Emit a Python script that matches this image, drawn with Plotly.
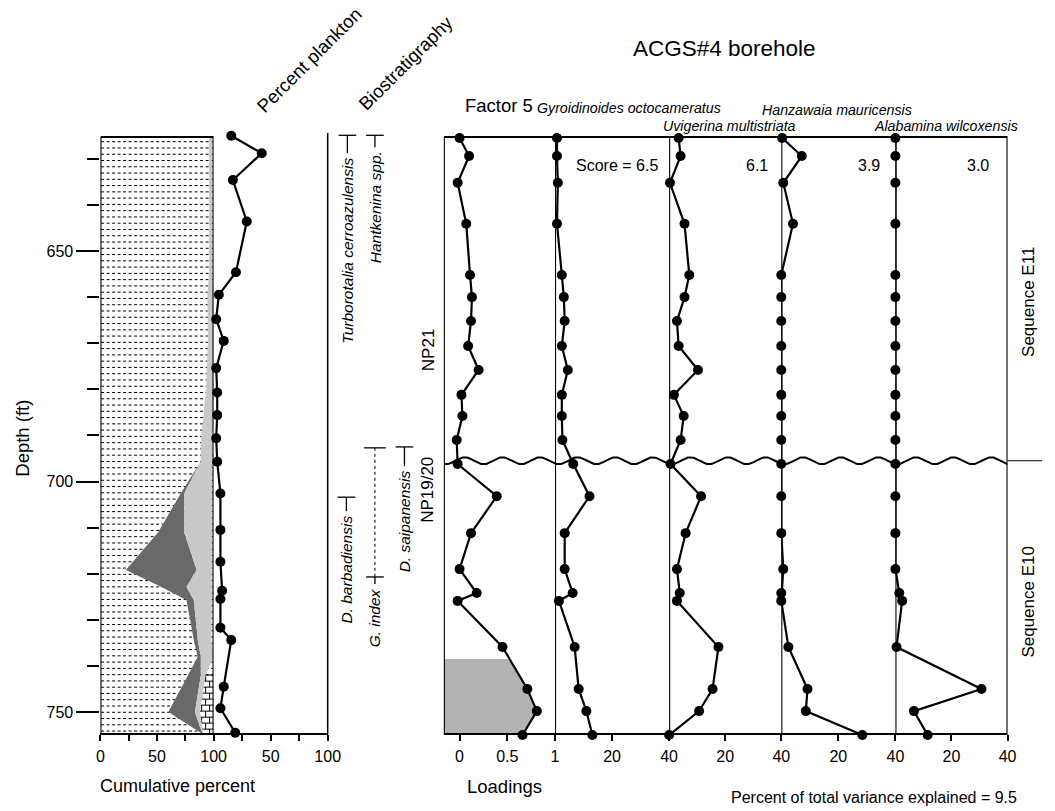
import numpy as np
import plotly.graph_objects as go

W, H = 1055, 811
FONT = "Liberation Sans, Arial, Helvetica, sans-serif"

# ---------------- data ----------------
# Percent plankton (depth in ft, percent)
plankton_depth = [625.0, 628.8, 634.6, 643.6, 654.6, 659.5, 664.8, 669.5, 675.4, 680.7, 685.6, 690.6,
                  695.7, 702.6, 710.5, 717.4, 723.7, 725.5, 731.7, 734.4, 744.5, 749.2, 754.5]
percent_plankton = [15.5, 42.2, 16.9, 29.1, 19.6, 4.6, 2.3, 8.9, 2.3, 3.2, 3.2, 2.3,
                    3.2, 6.0, 6.0, 6.0, 7.5, 6.0, 6.0, 15.5, 8.9, 6.0, 19.0]

# Cumulative percent: boundaries between components, left to right
cum_depth = [625.3, 654.6, 659.5, 669.5, 680.7, 690.6, 695.7, 702.6, 711.0, 719.2, 722.9, 725.7,
             734.4, 738.0, 742.0, 750.0, 754.7]
cum_bound_1 = [96.0, 96.0, 94.5, 95.0, 93.0, 89.0, 88.5, 71.0, 51.0, 22.5, 54.0, 76.0,
               82.5, 86.0, 77.4, 60.0, 90.0]
cum_bound_2 = [96.0, 96.0, 94.5, 95.0, 93.0, 89.0, 88.5, 74.0, 74.0, 85.0, 76.0, 82.5,
               86.0, 88.7, 88.7, 83.5, 90.0]
cum_bound_3 = [98.5, 98.5, 100.0, 100.0, 100.0, 99.0, 99.0, 98.5, 98.5, 98.5, 98.5, 98.5,
               98.0, 100.0, 93.0, 88.0, 91.0]

# Limestone interval at the base of the column
limestone_top, limestone_base, limestone_left = 742.0, 754.8, 86.0

# Factor 5 loadings and species percentages
sample_depth = [625.5, 629.4, 635.2, 644.1, 655.2, 660.0, 665.2, 670.6, 675.8, 681.2, 685.8, 691.0,
                696.2, 703.2, 711.2, 719.0, 724.2, 725.9, 735.9, 745.0, 749.8, 755.0]
loadings = [0.00, 0.10, -0.02, 0.07, 0.11, 0.13, 0.12, 0.09, 0.20, 0.02, 0.03, -0.03,
            -0.02, 0.39, 0.12, 0.00, 0.18, -0.02, 0.45, 0.71, 0.81, 0.66]
gyroidinoides = [0.7, 0.7, 1.0, 0.7, 2.4, 3.1, 3.4, 2.4, 4.5, 2.4, 2.4, 2.6,
                 6.4, 12.1, 3.4, 3.4, 6.2, 1.4, 6.9, 8.3, 11.0, 13.1]
uvigerina = [3.4, 4.1, 0.3, 5.5, 7.2, 5.5, 2.8, 3.4, 10.3, 1.7, 5.2, 4.1,
             0.5, 11.4, 5.9, 2.8, 3.8, 2.8, 17.6, 15.5, 10.7, 0.0]
hanzawaia = [0.3, 7.2, 0.7, 4.1, 0.0, 0.0, 0.0, 0.0, 0.0, 0.0, 0.0, 0.0,
             0.0, 0.0, 0.0, 0.7, 0.0, 0.0, 2.5, 9.2, 8.6, 28.4]
alabamina = [0.0, 0.0, 0.0, 0.0, 0.0, 0.0, 0.0, 0.0, 0.0, 0.0, 0.0, 0.0,
             0.0, 0.0, 0.0, 0.0, 1.4, 2.4, 0.4, 30.7, 6.6, 11.5]
species_names = ["Gyroidinoides octocameratus", "Uvigerina multistriata",
                 "Hanzawaia mauricensis", "Alabamina wilcoxensis"]
species_scores = [6.5, 6.1, 3.9, 3.0]
variance_explained = 9.5
loading_shade_top = 738.5
unconformity_depth = 695.5

# Biostratigraphic events
bio_names = ["Turborotalia cerroazulensis", "Hantkenina spp.", "D. barbadiensis", "G. index", "D. saipanensis"]
bio_event_depth = [624.9, 624.9, 703.4, 720.7, 692.5]
g_index_range = [692.7, 720.7]
nanno_zones = ["NP21", "NP19/20"]
nanno_label_depth = [671.5, 701.8]
sequences = ["Sequence E11", "Sequence E10"]
sequence_label_depth = [661.0, 726.0]

# ---------------- geometry ----------------
PLOT_TOP, PLOT_BOT = 137, 734
DEPTH_TOP, DEPTH_BOT = 625.27, 754.77
FT_PER_PX = (DEPTH_BOT - DEPTH_TOP) / (PLOT_BOT - PLOT_TOP)
# depth axis is padded so marks on the frame edges are not clipped
PAD_PX = 16
Y_RANGE = [DEPTH_BOT + PAD_PX * FT_PER_PX, DEPTH_TOP - PAD_PX * FT_PER_PX]


def fx(p):
    return p / W


def fy(p):
    return 1 - p / H


fig = go.Figure()

# ---- lithology: shale dashes ----
sx, sy = [], []
d = DEPTH_TOP + 4.7 * FT_PER_PX
while d < DEPTH_BOT - 0.4:
    sx += [0.6, 99.4, None]
    sy += [d, d, None]
    d += 6.27 * FT_PER_PX
fig.add_trace(go.Scatter(x=sx, y=sy, mode="lines", xaxis="x", yaxis="y",
                         line=dict(color="black", width=1, dash="3px,2.5px"),
                         hoverinfo="skip", showlegend=False))

# ---- lithology: limestone bricks ----
fig.add_trace(go.Scatter(x=[limestone_left, 100, 100, limestone_left, limestone_left],
                         y=[limestone_top, limestone_top, limestone_base, limestone_base, limestone_top],
                         fill="toself", fillcolor="white", mode="none", xaxis="x", yaxis="y",
                         hoverinfo="skip", showlegend=False))
bx, by = [], []
row_h = 6.0 * FT_PER_PX
rows = np.arange(limestone_top, limestone_base + 0.01, row_h)
for i, r in enumerate(rows):
    bx += [limestone_left, 100, None]
    by += [r, r, None]
    r2 = min(r + row_h, limestone_base)
    joints = [93.0] if i % 2 == 0 else [89.5, 96.5]
    for j in joints:
        bx += [j, j, None]
        by += [r, r2, None]
fig.add_trace(go.Scatter(x=bx, y=by, mode="lines", xaxis="x", yaxis="y",
                         line=dict(color="black", width=1), hoverinfo="skip", showlegend=False))

# ---- cumulative percent fills ----
fig.add_trace(go.Scatter(x=cum_bound_1 + cum_bound_2[::-1], y=cum_depth + cum_depth[::-1],
                         fill="toself", fillcolor="#696969", mode="none", xaxis="x", yaxis="y",
                         hoverinfo="skip", showlegend=False))
fig.add_trace(go.Scatter(x=cum_bound_2 + cum_bound_3[::-1], y=cum_depth + cum_depth[::-1],
                         fill="toself", fillcolor="#c9c9c9", mode="none", xaxis="x", yaxis="y",
                         hoverinfo="skip", showlegend=False))

# column frame
fig.add_trace(go.Scatter(x=[0, 100, 100, 0, 0], y=[DEPTH_TOP, DEPTH_TOP, DEPTH_BOT, DEPTH_BOT, DEPTH_TOP],
                         mode="lines", line=dict(color="black", width=2.2), xaxis="x", yaxis="y",
                         hoverinfo="skip", showlegend=False))

# ---- percent plankton ----
fig.add_trace(go.Scatter(x=percent_plankton, y=plankton_depth, mode="lines+markers",
                         xaxis="x2", yaxis="y", cliponaxis=False,
                         line=dict(color="black", width=2.2),
                         marker=dict(color="black", size=10), showlegend=False))

# ---- factor 5 panel ----
# shaded loadings at the base
shade_d = [loading_shade_top] + [dd for dd in sample_depth if dd > loading_shade_top]
shade_v = [float(np.interp(loading_shade_top, sample_depth, loadings))] + \
          [v for dd, v in zip(sample_depth, loadings) if dd > loading_shade_top]
x_min_load = -0.165
shade_d[-1] = min(shade_d[-1], DEPTH_BOT)
fig.add_trace(go.Scatter(x=[x_min_load] + shade_v + [x_min_load],
                         y=[loading_shade_top] + shade_d + [shade_d[-1]],
                         fill="toself", fillcolor="#b3b3b3", mode="none",
                         xaxis="x3", yaxis="y", hoverinfo="skip", showlegend=False))

# panel frame and column baselines
fig.add_trace(go.Scatter(x=[0, 1, 1, 0, 0], y=[DEPTH_TOP, DEPTH_TOP, DEPTH_BOT, DEPTH_BOT, DEPTH_TOP],
                         mode="lines", line=dict(color="black", width=2.2), xaxis="x8", yaxis="y",
                         hoverinfo="skip", showlegend=False))
for ax in ["x4", "x5", "x6", "x7"]:
    fig.add_trace(go.Scatter(x=[0, 0], y=[DEPTH_TOP, DEPTH_BOT], mode="lines",
                             line=dict(color="black", width=2.2), xaxis=ax, yaxis="y",
                             hoverinfo="skip", showlegend=False))

series = [(loadings, "x3"), (gyroidinoides, "x4"), (uvigerina, "x5"), (hanzawaia, "x6"), (alabamina, "x7")]
for vals, ax in series:
    fig.add_trace(go.Scatter(x=vals, y=sample_depth, mode="lines+markers", xaxis=ax, yaxis="y",
                             cliponaxis=False, line=dict(color="black", width=2.2),
                             marker=dict(color="black", size=10), showlegend=False))

# unconformity (wavy line)
wx = np.linspace(0, 1, 800)
wy = unconformity_depth + 0.75 * np.sin(2 * np.pi * 15 * wx + 1.2)
fig.add_trace(go.Scatter(x=wx, y=wy, mode="lines", xaxis="x8", yaxis="y",
                         line=dict(color="black", width=2), hoverinfo="skip", showlegend=False))

# ---------------- axes ----------------
tickfont = dict(family=FONT, size=16, color="black")
base_x = dict(showgrid=False, zeroline=False, ticks="outside", ticklen=6, tickwidth=1.5,
              tickcolor="black", tickfont=tickfont, anchor="free", position=fy(PLOT_BOT),
              fixedrange=True, ticklabelstandoff=2)

layout_axes = dict(
    xaxis=dict(base_x, domain=[fx(98), fx(213)], range=[0, 100], tickvals=[0, 25, 50, 75, 100],
               ticktext=["0", "", "50", "", "100"], showline=True, linecolor="black", linewidth=2.2),
    xaxis2=dict(base_x, domain=[fx(213), fx(329)], range=[0, 100], tickvals=[25, 50, 75, 100],
                ticktext=["", "50", "", "100"], showline=True, linecolor="black", linewidth=2.2),
    xaxis3=dict(base_x, domain=[fx(447), fx(560)], range=[x_min_load, 1.0], tickvals=[0, 0.5, 1],
                ticktext=["0", "0.5", "1"], showline=False),
    xaxis4=dict(base_x, domain=[fx(560), fx(676)], range=[0, 40], tickvals=[20, 40],
                ticktext=["20", "40"], showline=False),
    xaxis5=dict(base_x, domain=[fx(676), fx(790)], range=[0, 40], tickvals=[20, 40],
                ticktext=["20", "40"], showline=False),
    xaxis6=dict(base_x, domain=[fx(790), fx(906)], range=[0, 40], tickvals=[20, 40],
                ticktext=["20", "40"], showline=False),
    xaxis7=dict(base_x, domain=[fx(906), fx(1020)], range=[0, 40], tickvals=[20, 40],
                ticktext=["20", "40"], showline=False),
    xaxis8=dict(domain=[fx(447), fx(1020)], range=[0, 1], visible=False, anchor="free",
                position=fy(PLOT_BOT), fixedrange=True),
    yaxis=dict(domain=[fy(PLOT_BOT + PAD_PX), fy(PLOT_TOP - PAD_PX)], range=Y_RANGE, anchor="x",
               showgrid=False, zeroline=False, showline=False,
               tickvals=[650, 700, 750], ticks="outside", ticklen=23, tickwidth=2, tickcolor="black",
               tickfont=tickfont,
               minor=dict(tickvals=[630, 640, 660, 670, 680, 690, 710, 720, 730, 740],
                          ticks="outside", ticklen=12, tickwidth=1.5, tickcolor="black"),
               fixedrange=True),
)

# ---------------- shapes ----------------
shapes = []
# right edge of percent plankton panel
shapes.append(dict(type="line", xref="paper", yref="paper", x0=fx(329), x1=fx(329),
                   y0=fy(PLOT_BOT), y1=fy(133), line=dict(color="black", width=1.5)))
# sequence boundary tick at right
shapes.append(dict(type="line", xref="paper", yref="y", x0=fx(1020), x1=1.0,
                   y0=unconformity_depth, y1=unconformity_depth, line=dict(color="black", width=1)))

bio_x = [349, 377, 348, 377, 407]
bio_gap_px = [18, 12, 14, 7, 19]
half = 9
for name, dep, xp, gap in zip(bio_names, bio_event_depth, bio_x, bio_gap_px):
    shapes.append(dict(type="line", xref="paper", yref="y", x0=fx(xp - half), x1=fx(xp + half),
                       y0=dep, y1=dep, line=dict(color="black", width=1.3)))
    shapes.append(dict(type="line", xref="paper", yref="y", x0=fx(xp), x1=fx(xp),
                       y0=dep, y1=dep + gap * FT_PER_PX, line=dict(color="black", width=1.3)))
# G. index range (dotted) with its upper limit
gx = bio_x[3]
shapes.append(dict(type="line", xref="paper", yref="y", x0=fx(gx), x1=fx(gx),
                   y0=g_index_range[0], y1=g_index_range[1], line=dict(color="black", width=1, dash="dot")))
shapes.append(dict(type="line", xref="paper", yref="y", x0=fx(gx - 11), x1=fx(gx + 11),
                   y0=g_index_range[0], y1=g_index_range[0], line=dict(color="black", width=1.3)))

# ---------------- annotations ----------------
ann = []


def label(text, x, y, size, angle=0, xanchor="center", yanchor="middle", yref="paper", yval=None):
    ann.append(dict(text=text, x=fx(x), y=(fy(y) if yref == "paper" else yval), xref="paper", yref=yref,
                    showarrow=False, textangle=angle, xanchor=xanchor, yanchor=yanchor,
                    font=dict(family=FONT, size=size, color="black")))


label("ACGS#4 borehole", 732, 48, 22.5)
label("Percent plankton", 311, 60, 18.5, angle=-45)
label("Biostratigraphy", 409, 63, 18.5, angle=-45)
label("Factor 5", 503, 105, 18.5)
label("Depth (ft)", 18, 438, 18.5, angle=-90)
label("Cumulative percent", 176, 786, 18)
label("Loadings", 509, 786, 18.5)
label(f"Percent of total variance explained = {variance_explained}", 884, 797, 16)

sp_pos = [(635, 108), (737, 126), (847, 110), (957, 126)]
for name, (x, y) in zip(species_names, sp_pos):
    label(f"<i>{name}</i>", x, y, 14.2)

score_x = [623, 765, 879, 990]
for i, (s, x) in enumerate(zip(species_scores, score_x)):
    label(f"Score = {s}" if i == 0 else f"{s}", x, 166, 16)

for name, dep, xp, gap in zip(bio_names, bio_event_depth, bio_x, bio_gap_px):
    label(f"<i>{name}</i>", xp, 0, 15.5, angle=-90, yanchor="top", yref="y",
          yval=dep + (gap + 2) * FT_PER_PX)

for name, dep in zip(nanno_zones, nanno_label_depth):
    label(name, 431, 0, 17, angle=-90, yref="y", yval=dep)

for name, dep in zip(sequences, sequence_label_depth):
    label(name, 1041, 0, 17, angle=-90, yref="y", yval=dep)

fig.update_layout(
    width=W, height=H, autosize=False, margin=dict(l=0, r=0, t=0, b=0, pad=0),
    paper_bgcolor="white", plot_bgcolor="rgba(0,0,0,0)",
    showlegend=False, shapes=shapes, annotations=ann,
    font=dict(family=FONT, color="black"),
    **layout_axes,
)

# keep the page free of scrollbars so the figure keeps its full width
page_js = ("document.documentElement.style.overflow='hidden';"
           "document.body.style.overflow='hidden';document.body.style.margin='0';")
fig.write_html("out.html", config={"responsive": False}, post_script=page_js)
